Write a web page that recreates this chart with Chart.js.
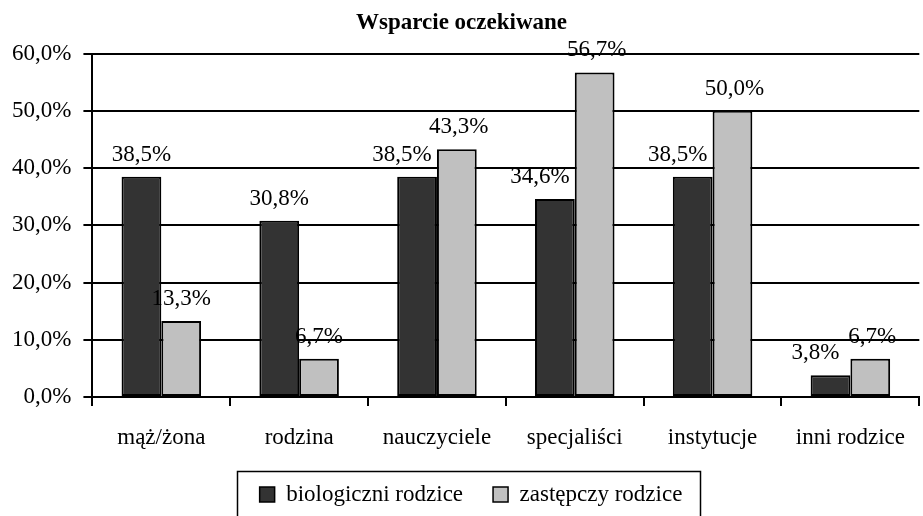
<!DOCTYPE html>
<html>
<head>
<meta charset="utf-8">
<script src="https://cdn.jsdelivr.net/npm/chart.js"></script>
<style>
  html, body { margin: 0; padding: 0; background: #ffffff; }
  #wrap { width: 923px; height: 516px; }
</style>
</head>
<body>
<div id="wrap"><canvas id="chart"></canvas></div>
<script>
// Wsparcie oczekiwane - grouped bars, percent values
const categories = ['mąż/żona', 'rodzina', 'nauczyciele', 'specjaliści', 'instytucje', 'inni rodzice'];
const biologiczni = [38.5, 30.8, 38.5, 34.6, 38.5, 3.8];
const zastepczy = [13.3, 6.7, 43.3, 56.7, 50.0, 6.7];
const seriesNames = ['biologiczni rodzice', 'zastępczy rodzice'];
const chartTitle = 'Wsparcie oczekiwane';

const FONT = '"Liberation Serif", "Times New Roman", serif';
const LEGEND_GAP = 30;

const fmt = (v) => v.toFixed(1).replace('.', ',') + '%';

// value labels above the bars (dark label moves left when the light bar is higher)
const valueLabels = {
    id: 'valueLabels',
    afterDatasetsDraw(chart) {
        const ctx = chart.ctx;
        const dark = chart.getDatasetMeta(0).data;
        const light = chart.getDatasetMeta(1).data;
        ctx.save();
        ctx.font = '23px ' + FONT;
        ctx.fillStyle = '#000000';
        ctx.textAlign = 'center';
        ctx.textBaseline = 'alphabetic';
        categories.forEach((c, i) => {
            const shift = zastepczy[i] >= biologiczni[i];
            ctx.fillText(fmt(biologiczni[i]), dark[i].x - (shift ? 15 : 0), dark[i].y - 16);
            ctx.fillText(fmt(zastepczy[i]), light[i].x + (shift ? 2 : 0), light[i].y - 16);
        });
        ctx.restore();
    }
};

// nudge the legend a bit right and draw a frame around it
const legendFrame = {
    id: 'legendFrame',
    afterLayout(chart) {
        chart.legend.left += 19;
    },
    afterDraw(chart) {
        const lg = chart.legend;
        if (!lg.lineWidths) return;
        const start = (lg.left + LEGEND_GAP + lg.right - lg.lineWidths[0]) / 2;
        const end = start + lg.lineWidths[0] - LEGEND_GAP;
        const left = Math.round(start - 23);
        const right = Math.round(end + 18);
        const top = Math.round(lg.top + LEGEND_GAP - 12);
        const ctx = chart.ctx;
        ctx.save();
        ctx.strokeStyle = '#000000';
        ctx.lineWidth = 1.5;
        ctx.strokeRect(left + 0.5, top + 0.5, right - left, 80);
        ctx.restore();
    }
};

const ctx = document.getElementById('chart').getContext('2d');

new Chart(ctx, {
    type: 'bar',
    data: {
        labels: categories,
        datasets: [
            {
                label: seriesNames[0],
                data: biologiczni,
                backgroundColor: '#333333',
                borderColor: '#000000',
                borderWidth: 2,
                borderSkipped: false
            },
            {
                label: seriesNames[1],
                data: zastepczy,
                backgroundColor: '#c0c0c0',
                borderColor: '#000000',
                borderWidth: 2,
                borderSkipped: false
            }
        ]
    },
    options: {
        responsive: true,
        maintainAspectRatio: false,
        animation: false,
        categoryPercentage: 0.577,
        barPercentage: 1.0,
        layout: {
            padding: { left: 0, right: 0, top: 0, bottom: 0 }
        },
        plugins: {
            title: {
                display: true,
                text: chartTitle,
                color: '#000000',
                font: { family: FONT, size: 23, weight: 'bold' },
                padding: { top: 9, bottom: 17 }
            },
            legend: {
                position: 'bottom',
                labels: {
                    color: '#000000',
                    font: { family: FONT, size: 23 },
                    boxWidth: 15,
                    boxHeight: 15,
                    padding: LEGEND_GAP,
                    generateLabels(chart) {
                        return chart.data.datasets.map((ds, i) => ({
                            text: ds.label,
                            fillStyle: ds.backgroundColor,
                            strokeStyle: '#000000',
                            lineWidth: 1.5,
                            fontColor: '#000000',
                            datasetIndex: i
                        }));
                    }
                }
            },
            tooltip: { enabled: false }
        },
        scales: {
            x: {
                afterFit(scale) {
                    scale.height = 56;
                },
                grid: {
                    drawOnChartArea: false,
                    drawTicks: true,
                    tickLength: 9,
                    color: '#000000',
                    lineWidth: 2
                },
                border: { display: true, color: '#000000', width: 2 },
                ticks: {
                    color: '#000000',
                    font: { family: FONT, size: 23 },
                    padding: 18,
                    maxRotation: 0
                }
            },
            y: {
                min: 0,
                max: 60,
                grid: {
                    color: '#000000',
                    lineWidth: 2,
                    drawTicks: true,
                    tickLength: 9
                },
                border: { display: true, color: '#000000', width: 2 },
                ticks: {
                    stepSize: 10,
                    color: '#000000',
                    font: { family: FONT, size: 23 },
                    padding: 12,
                    callback: function(value) {
                        return fmt(value);
                    }
                }
            }
        }
    },
    plugins: [valueLabels, legendFrame]
});
</script>
</body>
</html>
